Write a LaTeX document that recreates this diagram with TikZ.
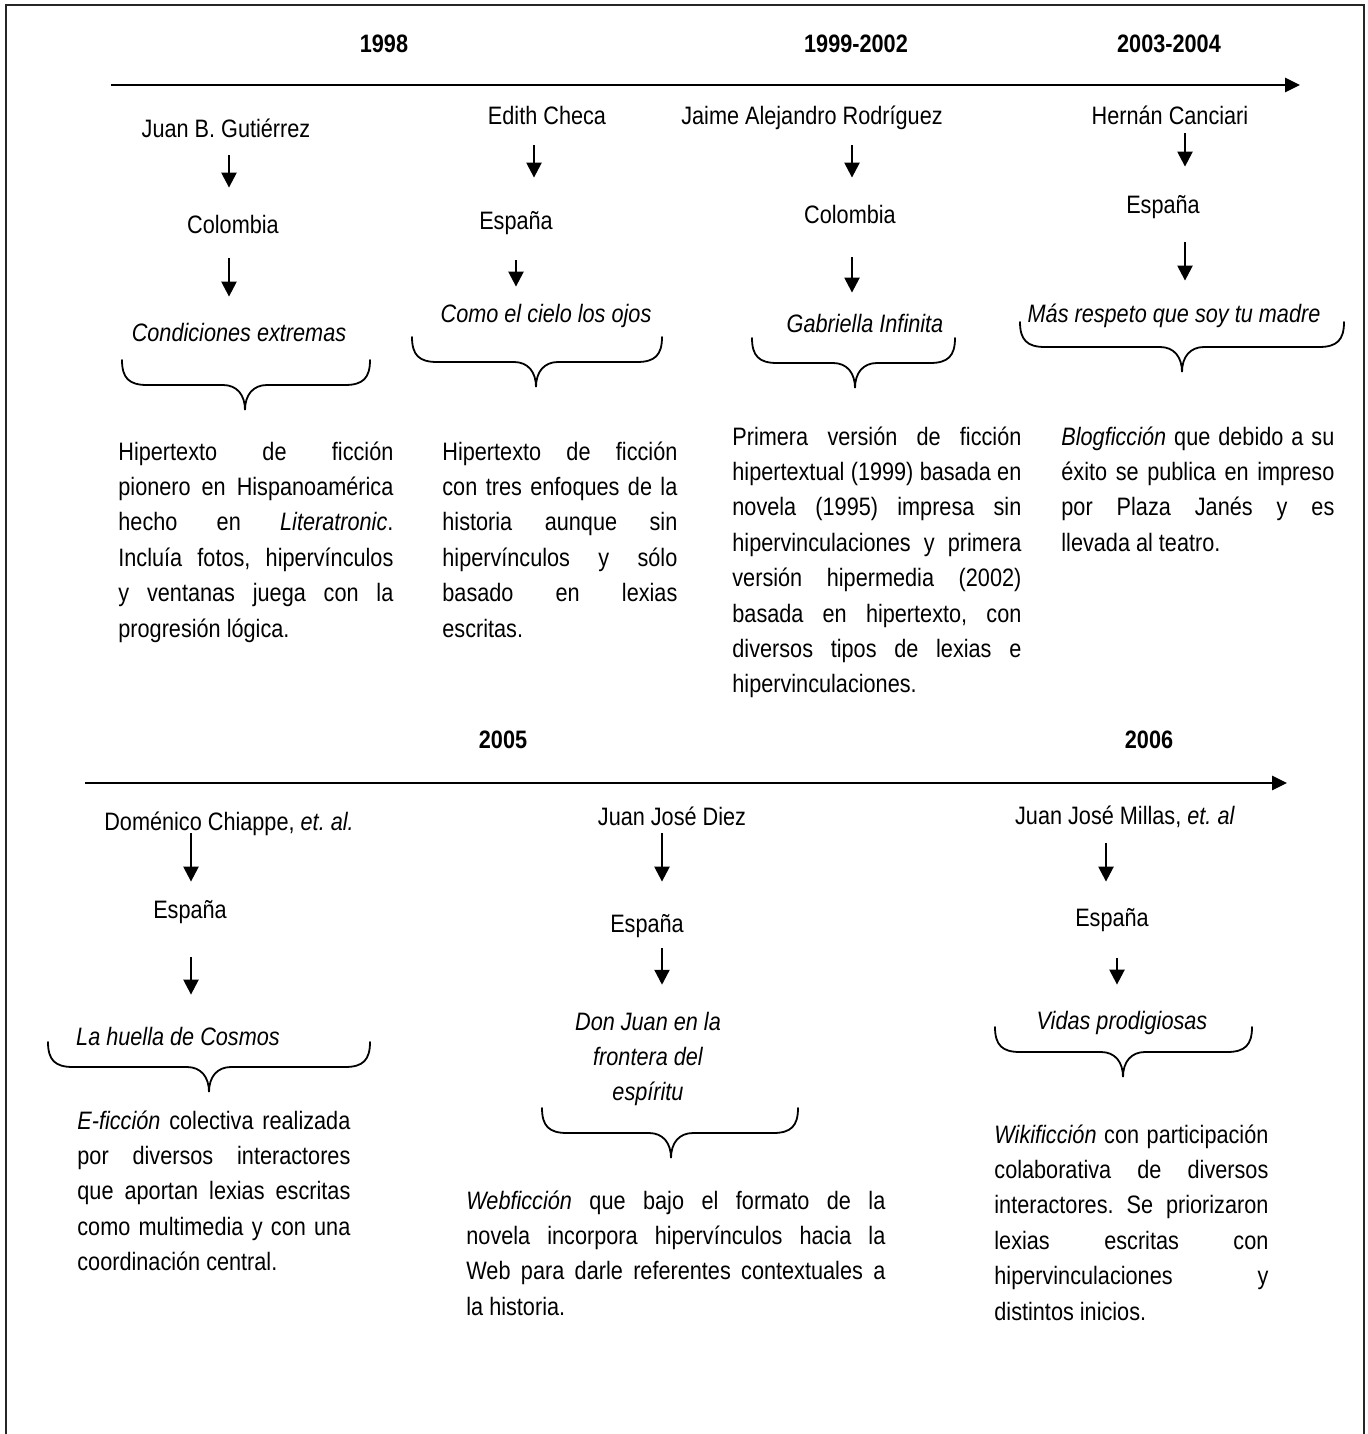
\documentclass[tikz,border=0pt]{standalone}
\usepackage{fontspec}
\setmainfont{Liberation Sans}[FakeStretch=0.86]
\usetikzlibrary{arrows.meta}
\frenchspacing

% text size used throughout
\newcommand\fsz{\fontsize{12.6pt}{17.7pt}\selectfont}
% justified paragraph built line by line
\newcommand\jpar[2]{\vtop{\hsize=#1\relax\baselineskip=17.7pt\lineskip=0pt\lineskiplimit=-\maxdimen #2}}
\newcommand\jline[1]{\hbox to\hsize{#1}}
\newcommand\lline[1]{\hbox{#1}}
\newcommand\ctrline[1]{\hbox to\hsize{\hfil#1\hfil}}
% curly brace opening upwards: left x, right x, top y, tip x
\newcommand\wbrace[4]{%
  \draw[bracestyle] (#1,#3) .. controls (#1,#3+18) and (#1+7,#3+25) .. (#1+25,#3+25)
    -- (#4-22,#3+25) .. controls (#4-8,#3+25) and (#4,#3+35) .. (#4,#3+50)
    .. controls (#4,#3+35) and (#4+8,#3+25) .. (#4+22,#3+25)
    -- (#2-25,#3+25) .. controls (#2-7,#3+25) and (#2,#3+18) .. (#2,#3);}

\tikzset{
  lbl/.style={inner sep=0pt, text height=9pt, text depth=2.5pt, anchor=base, font=\fsz},
  ttl/.style={lbl, font=\fsz\itshape},
  yr/.style={lbl, font=\fsz\bfseries},
  body/.style={inner sep=0pt, anchor=base west, font=\fsz},
  varrow/.style={line width=1.2pt, -{Triangle[length=7.5pt,width=7.5pt]}},
  tline/.style={line width=1.3pt, -{Triangle[length=7.5pt,width=7pt]}},
  bracestyle/.style={line width=0.9pt, line cap=round},
  frame/.style={line width=1pt, draw=black!85}
}

\begin{document}
\begin{tikzpicture}[x=0.5pt, y=-0.5pt]
\useasboundingbox (0,0) rectangle (1367,1434);
\draw[frame] (6,1440) -- (6,5) -- (1364,5) -- (1364,1440);

% ---------- first time line ----------
\coordinate (tl1s) at (111,85);
\coordinate (tl1e) at (1300,85);
\draw[tline] (tl1s) -- (tl1e);
\node[yr] (y1) at (384,53) {1998};
\node[yr] (y2) at (856,53) {1999-2002};
\node[yr] (y3) at (1169,53) {2003-2004};

% Gutiérrez
\node[lbl] (a1) at (226,137) {Juan B. Gutiérrez};
\node[lbl] (b1) at (233,233) {Colombia};
\node[ttl] (t1) at (239,341) {Condiciones extremas};
\coordinate (x1) at (229,0);
\draw[varrow, shorten <=6.5pt, shorten >=13.5pt] (a1.south -| x1) -- (b1.north -| x1);
\draw[varrow, shorten <=10pt, shorten >=13pt] (b1.south -| x1) -- (t1.north -| x1);
\wbrace{122}{370}{360}{245}
\node[body] (d1) at (118,460) {\jpar{137.5pt}{%
  \jline{Hipertexto de ficción}
  \jline{pionero en Hispanoamérica}
  \jline{hecho en \textit{Literatronic}.}
  \jline{Incluía fotos, hipervínculos}
  \jline{y ventanas juega con la}
  \lline{progresión lógica.}}};

% Checa
\node[lbl] (a2) at (547,125) {Edith Checa};
\node[lbl] (b2) at (516,229) {España};
\node[ttl] (t2) at (546,322) {Como el cielo los ojos};
\coordinate (x2a) at (534,0);
\coordinate (x2b) at (516,0);
\draw[varrow, shorten <=7.5pt, shorten >=16.5pt] (a2.south -| x2a) -- (b2.north -| x2a);
\draw[varrow, shorten <=13pt, shorten >=8.5pt] (b2.south -| x2b) -- (t2.north -| x2b);
\wbrace{412}{662}{337}{536}
\node[body] (d2) at (442,460) {\jpar{117.5pt}{%
  \jline{Hipertexto de ficción}
  \jline{con tres enfoques de la}
  \jline{historia aunque sin}
  \jline{hipervínculos y sólo}
  \jline{basado en lexias}
  \lline{escritas.}}};

% Rodríguez
\node[lbl] (a3) at (812,125) {Jaime Alejandro Rodríguez};
\node[lbl] (b3) at (850,223) {Colombia};
\node[ttl] (t3) at (865,332) {Gabriella Infinita};
\coordinate (x3) at (852,0);
\draw[varrow, shorten <=7.5pt, shorten >=13.5pt] (a3.south -| x3) -- (b3.north -| x3);
\draw[varrow, shorten <=14.5pt, shorten >=10.5pt] (b3.south -| x3) -- (t3.north -| x3);
\wbrace{752}{955}{338}{855}
\node[body] (d3) at (732,445) {\jpar{144.5pt}{%
  \jline{Primera versión de ficción}
  \jline{hipertextual (1999) basada en}
  \jline{novela (1995) impresa sin}
  \jline{hipervinculaciones y primera}
  \jline{versión hipermedia (2002)}
  \jline{basada en hipertexto, con}
  \jline{diversos tipos de lexias e}
  \lline{hipervinculaciones.}}};

% Canciari
\node[lbl] (a4) at (1170,125) {Hernán Canciari};
\node[lbl] (b4) at (1163,213) {España};
\node[ttl] (t4) at (1174,322) {Más respeto que soy tu madre};
\coordinate (x4) at (1185,0);
\draw[varrow, shorten <=1.5pt, shorten >=14pt] (a4.south -| x4) -- (b4.north -| x4);
\draw[varrow, shorten <=12pt, shorten >=11.5pt] (b4.south -| x4) -- (t4.north -| x4);
\wbrace{1020}{1344}{322}{1182}
\node[body] (d4) at (1061,445) {\jpar{136.5pt}{%
  \jline{\textit{Blogficción} que debido a su}
  \jline{éxito se publica en impreso}
  \jline{por Plaza Janés y es}
  \lline{llevada al teatro.}}};

% ---------- second time line ----------
\coordinate (tl2s) at (85,783);
\coordinate (tl2e) at (1287,783);
\draw[tline] (tl2s) -- (tl2e);
\node[yr] (y4) at (503,748) {2005};
\node[yr] (y5) at (1149,748) {2006};

% Chiappe
\node[lbl] (a5) at (229,830) {Doménico Chiappe, \textit{et. al.}};
\node[lbl] (b5) at (190,918) {España};
\node[ttl] (t5) at (178,1045) {La huella de Cosmos};
\coordinate (x5) at (191,0);
\draw[varrow, shorten <=-1pt, shorten >=9pt] (a5.south -| x5) -- (b5.north -| x5);
\draw[varrow, shorten <=17pt, shorten >=16pt] (b5.south -| x5) -- (t5.north -| x5);
\wbrace{48}{370}{1042}{209}
\node[body] (d5) at (77,1129) {\jpar{136.5pt}{%
  \jline{\textit{E-ficción} colectiva realizada}
  \jline{por diversos interactores}
  \jline{que aportan lexias escritas}
  \jline{como multimedia y con una}
  \lline{coordinación central.}}};

% Diez
\node[lbl] (a6) at (672,825) {Juan José Diez};
\node[lbl] (b6) at (647,932) {España};
\node[inner sep=0pt, anchor=base, font=\fsz\itshape] (t6) at (648,1030) {\jpar{90pt}{%
  \ctrline{\rule{0pt}{9pt}Don Juan en la}
  \ctrline{frontera del}
  \ctrline{espíritu}}};
\coordinate (x6) at (662,0);
\draw[varrow, shorten <=1.5pt, shorten >=16pt] (a6.south -| x6) -- (b6.north -| x6);
\draw[varrow, shorten <=5.5pt, shorten >=13.3pt] (b6.south -| x6) -- (t6.north -| x6);
\wbrace{542}{798}{1108}{671}
\node[body] (d6) at (466,1209) {\jpar{209.5pt}{%
  \jline{\textit{Webficción} que bajo el formato de la}
  \jline{novela incorpora hipervínculos hacia la}
  \jline{Web para darle referentes contextuales a}
  \lline{la historia.}}};

% Millas
\node[lbl] (a7) at (1125,824) {Juan José Millas, \textit{et. al}};
\node[lbl] (b7) at (1112,926) {España};
\node[ttl] (t7) at (1122,1029) {Vidas prodigiosas};
\coordinate (x7a) at (1106,0);
\coordinate (x7b) at (1117,0);
\draw[varrow, shorten <=7pt, shorten >=13pt] (a7.south -| x7a) -- (b7.north -| x7a);
\draw[varrow, shorten <=13.5pt, shorten >=13pt] (b7.south -| x7b) -- (t7.north -| x7b);
\wbrace{995}{1252}{1027}{1123}
\node[body] (d7) at (994,1143) {\jpar{137pt}{%
  \jline{\textit{Wikificción} con participación}
  \jline{colaborativa de diversos}
  \jline{interactores. Se priorizaron}
  \jline{lexias escritas con}
  \jline{hipervinculaciones y}
  \lline{distintos inicios.}}};
\end{tikzpicture}
\end{document}
